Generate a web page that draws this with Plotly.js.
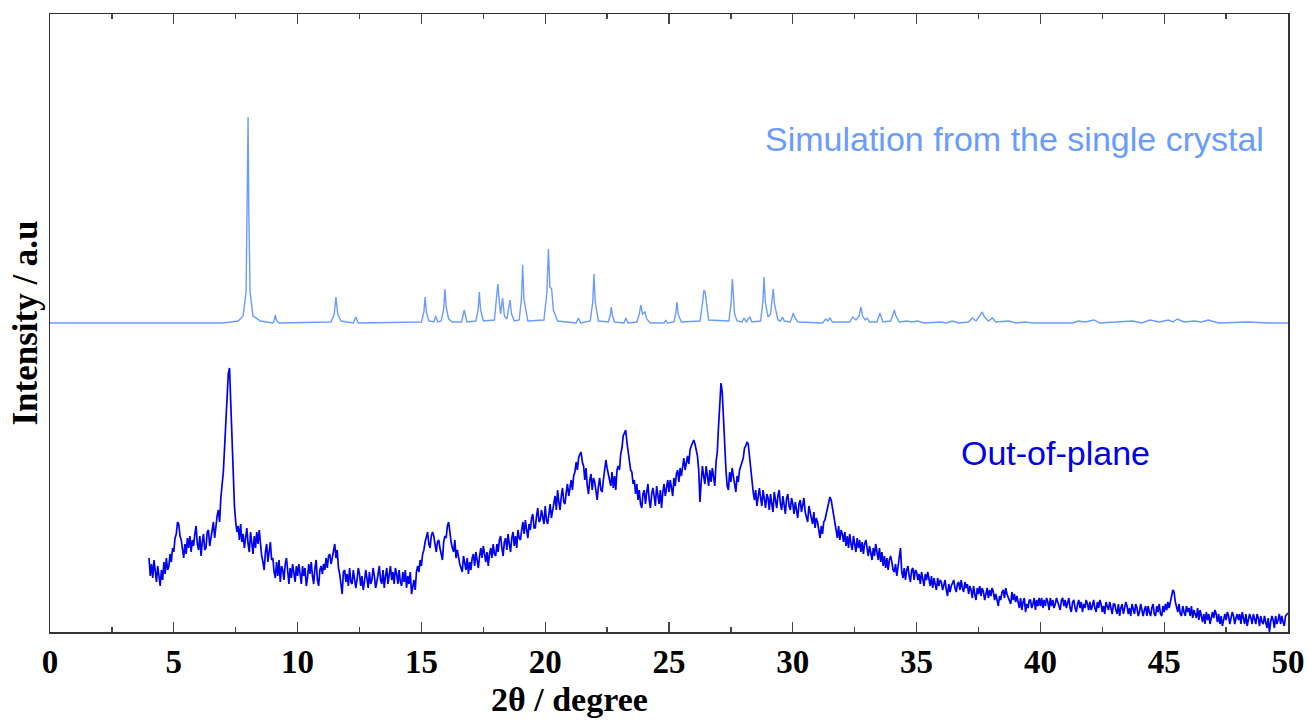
<!DOCTYPE html>
<html>
<head>
<meta charset="utf-8">
<script src="https://cdn.plot.ly/plotly-3.0.1.min.js"></script>
<style>html,body{margin:0;padding:0;background:#fff;}#chart{width:1309px;height:723px;}</style>
</head>
<body>
<div id="chart"></div>
<script>
// Experimental out-of-plane pattern: start 4.00 deg, step 0.05 deg (intensity, arbitrary units)
const expStart = 4.0;
const expStep = 0.05;
const expIntensity = [
  74, 56, 68, 54, 72, 60, 50, 66, 56, 46, 62, 52, 70, 58, 74, 62, 66, 78, 70, 84,
  80, 94, 98, 110, 108, 96, 92, 80, 74, 88, 78, 94, 84, 96, 80, 92, 86, 98, 106, 88,
  82, 96, 76, 90, 98, 82, 84, 100, 102, 86, 96, 106, 110, 94, 106, 116, 122, 110, 134, 144,
  160, 184, 208, 238, 258, 264, 228, 190, 150, 126, 110, 100, 106, 92, 108, 90, 98, 84, 94, 104,
  88, 80, 100, 86, 78, 96, 84, 100, 88, 102, 84, 76, 70, 62, 80, 88, 70, 84, 90, 72,
  74, 60, 54, 70, 56, 72, 50, 66, 62, 52, 68, 74, 58, 48, 64, 54, 68, 58, 50, 66,
  56, 68, 58, 48, 66, 56, 64, 46, 54, 68, 58, 70, 56, 48, 64, 72, 52, 46, 62, 66,
  58, 68, 62, 74, 64, 76, 78, 68, 74, 84, 88, 74, 82, 64, 58, 48, 38, 60, 62, 50,
  58, 46, 64, 50, 48, 62, 54, 44, 52, 64, 58, 46, 56, 42, 50, 62, 54, 44, 60, 48,
  52, 64, 56, 44, 50, 60, 66, 52, 48, 62, 44, 56, 64, 48, 56, 66, 52, 60, 48, 64,
  58, 48, 62, 50, 46, 60, 50, 62, 44, 56, 48, 60, 38, 46, 52, 42, 60, 66, 60, 72,
  66, 78, 82, 90, 94, 100, 88, 84, 96, 100, 96, 88, 80, 90, 92, 84, 78, 72, 90, 96,
  94, 106, 110, 96, 90, 84, 80, 92, 74, 82, 72, 68, 64, 60, 76, 68, 62, 74, 58, 70,
  62, 74, 78, 66, 80, 72, 64, 76, 84, 74, 86, 78, 70, 80, 66, 78, 84, 74, 88, 78,
  76, 88, 80, 92, 96, 84, 76, 90, 94, 82, 98, 88, 80, 94, 100, 86, 96, 84, 102, 94,
  92, 102, 110, 98, 112, 102, 94, 108, 102, 114, 118, 104, 104, 116, 124, 110, 112, 122, 116, 108,
  126, 112, 108, 122, 128, 114, 122, 132, 136, 122, 142, 130, 122, 136, 144, 130, 128, 140, 148, 136,
  146, 152, 142, 156, 160, 170, 162, 174, 178, 180, 170, 166, 152, 164, 146, 138, 152, 158, 142, 154,
  150, 138, 132, 146, 154, 142, 140, 152, 164, 172, 164, 156, 152, 146, 160, 144, 156, 142, 162, 166,
  162, 178, 184, 196, 200, 202, 190, 182, 170, 162, 160, 148, 152, 138, 148, 132, 142, 128, 124, 138,
  142, 128, 140, 148, 132, 124, 138, 144, 136, 126, 146, 134, 128, 142, 124, 140, 148, 136, 146, 152,
  140, 152, 144, 136, 154, 146, 158, 162, 150, 164, 156, 168, 174, 162, 170, 176, 168, 182, 186, 190,
  192, 188, 180, 176, 162, 130, 150, 166, 156, 148, 166, 154, 146, 162, 150, 164, 154, 146, 170, 180,
  205, 230, 249, 240, 208, 180, 162, 146, 142, 160, 150, 164, 154, 144, 140, 156, 150, 162, 166, 172,
  174, 184, 186, 190, 188, 176, 162, 146, 140, 132, 142, 126, 134, 144, 134, 126, 142, 132, 124, 138,
  134, 122, 138, 128, 120, 140, 130, 124, 136, 142, 128, 122, 136, 126, 118, 134, 138, 126, 122, 134,
  128, 118, 130, 122, 114, 128, 132, 120, 128, 134, 120, 114, 110, 126, 118, 114, 108, 120, 104, 114,
  110, 100, 94, 106, 98, 110, 112, 118, 124, 130, 135, 132, 124, 114, 106, 98, 94, 106, 92, 102,
  98, 90, 100, 86, 96, 84, 98, 88, 82, 96, 86, 80, 94, 84, 92, 80, 90, 78, 88, 92,
  84, 76, 86, 78, 72, 84, 76, 88, 78, 72, 84, 70, 80, 66, 76, 64, 74, 62, 72, 76,
  70, 62, 60, 68, 56, 66, 72, 84, 60, 54, 64, 52, 62, 66, 56, 50, 62, 64, 52, 62,
  60, 52, 58, 48, 60, 52, 46, 58, 52, 60, 50, 46, 56, 44, 54, 48, 42, 54, 46, 52,
  50, 42, 48, 52, 42, 36, 48, 40, 46, 50, 52, 44, 40, 48, 50, 42, 52, 44, 40, 50,
  44, 48, 38, 46, 42, 34, 46, 38, 32, 44, 38, 46, 36, 44, 40, 32, 38, 44, 34, 42,
  36, 44, 40, 32, 38, 30, 26, 36, 32, 40, 42, 34, 44, 38, 34, 30, 28, 40, 32, 38,
  30, 36, 28, 24, 34, 22, 30, 34, 20, 28, 24, 32, 32, 24, 28, 34, 22, 32, 26, 34,
  26, 34, 24, 32, 26, 34, 30, 22, 34, 26, 32, 24, 28, 34, 30, 26, 22, 32, 34, 26,
  32, 24, 28, 34, 24, 20, 30, 32, 24, 20, 28, 32, 24, 30, 20, 28, 24, 32, 28, 22,
  30, 22, 26, 32, 24, 20, 30, 24, 32, 28, 20, 26, 18, 30, 26, 22, 30, 24, 18, 28,
  28, 22, 18, 28, 16, 24, 28, 18, 24, 30, 26, 18, 24, 16, 28, 22, 18, 28, 24, 16,
  20, 28, 22, 16, 22, 26, 16, 26, 20, 16, 24, 28, 18, 16, 26, 20, 28, 18, 16, 26,
  20, 28, 22, 30, 24, 32, 36, 42, 40, 30, 26, 20, 28, 18, 16, 26, 20, 16, 26, 20,
  24, 16, 26, 14, 22, 18, 14, 24, 12, 22, 16, 10, 18, 8, 20, 12, 18, 8, 14, 20,
  14, 22, 18, 10, 18, 8, 16, 6, 12, 18, 12, 20, 16, 8, 14, 20, 16, 8, 14, 18,
  12, 18, 8, 20, 14, 8, 18, 6, 12, 18, 14, 8, 18, 12, 8, 18, 14, 6, 16, 10,
  8, 16, 10, 4, 14, 0, 10, 16, 12, 4, 16, 8, 12, 18, 8, 16, 10, 6, 16, 18,
  19
];

// Simulated pattern from the single crystal (offset upward)
const simTwoTheta = [
  0, 7.0, 7.6, 7.8, 7.92, 7.97, 8.0, 8.03, 8.08, 8.2, 8.5,
  9.0, 9.06, 9.1, 9.14, 9.25,
  11.35, 11.48, 11.55, 11.62, 11.75,
  12.25, 12.35, 12.45,
  15.0, 15.1, 15.15, 15.2, 15.3,
  15.5, 15.58, 15.66,
  15.8, 15.9, 15.95, 16.0, 16.1, 16.25,
  16.62, 16.73, 16.84,
  17.2, 17.29, 17.34, 17.39, 17.5,
  17.95, 18.04, 18.09, 18.15, 18.2, 18.28, 18.35, 18.45, 18.53, 18.58, 18.64, 18.75,
  18.95, 19.04, 19.09, 19.14, 19.3,
  19.95, 20.07, 20.13, 20.19, 20.26, 20.33, 20.5,
  21.25, 21.34, 21.43,
  21.82, 21.92, 21.97, 22.02, 22.15,
  22.55, 22.63, 22.67, 22.71, 22.8,
  23.18, 23.26, 23.34,
  23.7, 23.8, 23.86, 23.93, 24.03, 24.1, 24.25,
  24.8, 24.87, 24.94,
  25.2, 25.27, 25.32, 25.37, 25.5,
  26.25, 26.36, 26.41, 26.46, 26.6,
  27.42, 27.51, 27.56, 27.61, 27.65, 27.75,
  27.95, 28.03, 28.12, 28.2, 28.27, 28.35,
  28.7, 28.79, 28.84, 28.89, 29.0, 29.1, 29.16, 29.21, 29.26, 29.4,
  29.5, 29.58, 29.66,
  29.9, 29.97, 30.02, 30.07, 30.2,
  31.2, 31.33, 31.42, 31.5, 31.6,
  32.3, 32.42, 32.55, 32.68, 32.75, 32.82, 32.92, 33.0, 33.1,
  33.4, 33.52, 33.64,
  33.95, 34.05, 34.1, 34.15, 34.3,
  34.6, 34.8, 35.04, 35.3,
  35.98, 36.2, 36.44, 36.7,
  37.1, 37.25, 37.4, 37.56, 37.65, 37.74, 37.9, 38.06, 38.2,
  38.72, 39.0, 39.38, 39.7,
  41.3, 41.53, 41.8, 42.0, 42.17, 42.4,
  43.73, 44.1, 44.43, 44.8, 45.17, 45.35, 45.53, 45.8, 46.22, 46.5, 46.78, 47.2, 48.4, 49.2, 50
];
const simIntensity = [
  309, 309, 311, 316, 340, 420, 515, 420, 340, 316, 311,
  309, 312, 317, 312, 309,
  310, 318, 335, 318, 311,
  309, 315, 309,
  310, 320, 335, 320, 311,
  310, 316, 310,
  311, 323, 343, 325, 313, 310,
  310, 322, 310,
  311, 322, 340, 322, 311,
  312, 336, 348, 330, 318, 334, 316, 313, 324, 332, 318, 311,
  312, 333, 367, 333, 311,
  312, 340, 383, 345, 343, 322, 311,
  309, 314, 309,
  311, 330, 358, 330, 311,
  310, 317, 325, 317, 310,
  309, 314, 309,
  310, 318, 327, 318, 320, 313, 309,
  309, 312, 309,
  310, 318, 330, 318, 310,
  311, 330, 342, 340, 312,
  311, 330, 353, 325, 318, 311,
  310, 314, 310, 313, 315, 310,
  311, 330, 355, 330, 315, 318, 330, 343, 328, 312,
  311, 315, 311,
  310, 315, 319, 315, 310,
  309, 313, 311, 314, 310,
  310, 315, 312, 316, 325, 316, 312, 314, 310,
  310, 319, 310,
  311, 318, 322, 317, 310,
  311, 310, 311, 309,
  310, 309, 311, 309,
  310, 314, 311, 316, 320, 315, 311, 314, 310,
  311, 309, 310, 309,
  309, 311, 310, 311, 312, 309,
  311, 309, 312, 310, 312, 310, 313, 310, 311, 310, 312, 309, 310, 309, 309
];

const labelSim = 'Simulation from the single crystal';
const labelExp = 'Out-of-plane';
const xTitle = '2θ / degree';
const yTitle = 'Intensity / a.u';
const xTicks = [0, 5, 10, 15, 20, 25, 30, 35, 40, 45, 50];

const colSim = '#6a9bff';
const colExp = '#0000f0';
const serif = 'Liberation Serif, Times New Roman, serif';
const sans = 'Liberation Sans, Arial, sans-serif';

const traces = [
  {x: simTwoTheta, y: simIntensity, type: 'scatter', mode: 'lines',
   line: {color: colSim, width: 1.4}, hoverinfo: 'skip', showlegend: false},
  {x0: expStart, dx: expStep, y: expIntensity, type: 'scatter', mode: 'lines',
   line: {color: colExp, width: 1.7}, hoverinfo: 'skip', showlegend: false}
];

const layout = {
  width: 1309, height: 723,
  margin: {l: 50, r: 21, t: 14, b: 91},
  paper_bgcolor: '#fff', plot_bgcolor: '#fff',
  showlegend: false,
  xaxis: {
    range: [0, 50], tickvals: xTicks, ticktext: xTicks.map(String),
    ticks: 'inside', ticklen: 10, tickwidth: 1.3, tickcolor: '#444',
    minor: {dtick: 2.5, tick0: 0, ticks: 'inside', ticklen: 5, tickwidth: 1.3, tickcolor: '#444'},
    showline: true, linecolor: '#333', linewidth: 1.5, mirror: 'allticks',
    showgrid: false, zeroline: false,
    tickfont: {family: serif, size: 33, color: '#000', weight: 'bold'}
  },
  yaxis: {
    range: [0, 618], showticklabels: false, ticks: '',
    showline: true, linecolor: '#333', linewidth: 1.5, mirror: true,
    showgrid: false, zeroline: false,
    title: {text: '<b>' + yTitle + '</b>', font: {family: serif, size: 35, color: '#000'}, standoff: 0}
  },
  annotations: [
    {text: '<b>' + xTitle + '</b>', xref: 'paper', yref: 'paper', x: 0.42, y: -0.109, xanchor: 'center', yanchor: 'middle', showarrow: false,
     font: {family: serif, size: 34, color: '#000'}},
    {text: labelSim, xref: 'paper', yref: 'paper', x: 0.779, y: 0.798, xanchor: 'center', yanchor: 'middle', showarrow: false,
     font: {family: sans, size: 34, color: colSim}},
    {text: labelExp, xref: 'paper', yref: 'paper', x: 0.812, y: 0.290, xanchor: 'center', yanchor: 'middle', showarrow: false,
     font: {family: sans, size: 34, color: '#0000e6'}}
  ]
};

Plotly.newPlot('chart', traces, layout, {staticPlot: true, displayModeBar: false});
</script>
</body>
</html>
